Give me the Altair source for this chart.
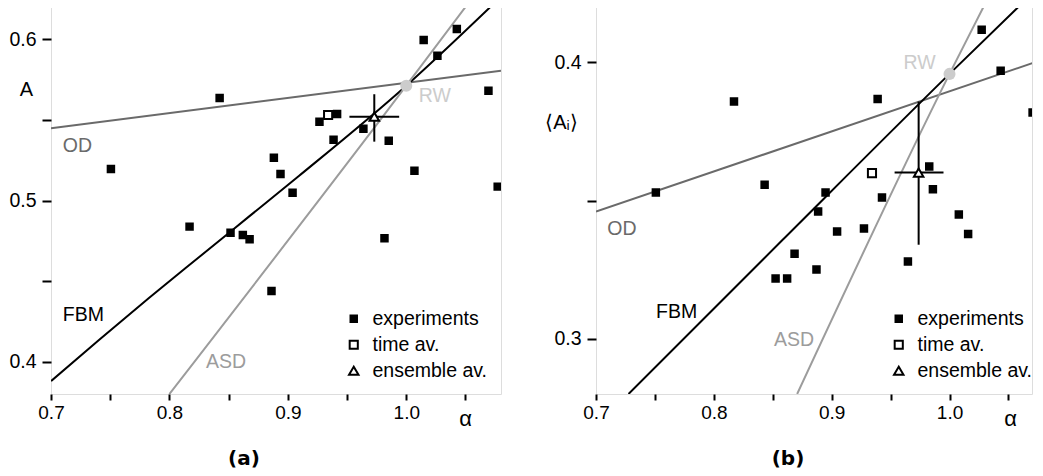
import altair as alt
import pandas as pd

FONT = "Liberation Sans"

# ---------------- panel (a) data ----------------
a_exp_alpha = [0.8424, 0.7506, 1.0147, 1.0427, 1.0263, 1.0694, 0.9416, 0.9267, 0.9638, 0.9386,
               0.9852, 0.8882, 0.8938, 0.9040, 1.0069, 1.0772, 0.8170, 0.8516, 0.8620, 0.8677,
               0.9816, 0.8862]
a_exp_A = [0.5636, 0.5195, 0.5996, 0.6064, 0.5898, 0.5681, 0.5537, 0.5489, 0.5445, 0.5377,
           0.5371, 0.5265, 0.5164, 0.5048, 0.5185, 0.5086, 0.4838, 0.4800, 0.4786, 0.4759,
           0.4766, 0.4439]
a_time = [0.934, 0.553]
a_ens = [0.973, 0.552]
a_ens_alpha_err = [0.952, 0.994]
a_ens_A_err = [0.5365, 0.5659]
a_rw = [1.0, 0.5712]
a_od_alpha = [0.7, 1.08]
a_od_A = [0.5448, 0.5805]
a_fbm_alpha = [0.7, 0.7405, 0.7827, 0.8249, 0.8671, 0.9093, 1.0, 1.071]
a_fbm_A = [0.388, 0.4135, 0.4395, 0.4648, 0.49, 0.5152, 0.5712, 0.62]
a_asd_alpha = [0.8, 1.0, 1.05]
a_asd_A = [0.38, 0.5712, 0.62]
a_label_names = ["OD", "FBM", "ASD", "RW"]
a_label_alpha = [0.710, 0.710, 0.8308, 1.0105]
a_label_A = [0.5341, 0.429, 0.3998, 0.5648]

# ---------------- panel (b) data ----------------
b_exp_alpha = [1.0273, 1.0434, 0.8171, 0.9390, 1.0705, 1.0768, 0.9828, 0.8431, 0.7508, 0.8948,
               0.9859, 0.9427, 0.8885, 1.0079, 0.9046, 0.9274, 1.0158, 0.8685, 0.9647, 0.8871,
               0.8524, 0.8622]
b_exp_A = [0.4118, 0.3969, 0.3858, 0.3867, 0.3818, 0.3840, 0.3623, 0.3557, 0.3529, 0.3529,
           0.3541, 0.3511, 0.3460, 0.3449, 0.3388, 0.3399, 0.3379, 0.3307, 0.3279, 0.3250,
           0.3218, 0.3218]
b_time = [0.9342, 0.3599]
b_ens = [0.9738, 0.3601]
b_ens_alpha_err = [0.9534, 0.9949]
b_ens_A_err = [0.334, 0.3858]
b_rw = [1.0, 0.3958]
b_od_alpha = [0.7, 1.078]
b_od_A = [0.346, 0.4008]
b_fbm_alpha = [0.7276, 0.858, 1.0, 1.0584]
b_fbm_A = [0.28, 0.3356, 0.3958, 0.42]
b_asd_alpha = [0.8707, 1.0, 1.0288]
b_asd_A = [0.28, 0.3958, 0.42]
b_label_names = ["OD", "FBM", "ASD", "RW"]
b_label_alpha = [0.7096, 0.751, 0.851, 0.961]
b_label_A = [0.3396, 0.3096, 0.2995, 0.3996]

kinds = ["experiments", "time av.", "ensemble av."]
curve_names = ["OD", "FBM", "ASD", "RW"]
curve_colors = ["#6a6a6a", "#000000", "#9c9c9c", "#cccccc"]


def lab_expr():
    return "round(datum.value*100) % 10 == 0 ? format(datum.value, '.1f') : ''"


def panel(exp_x, exp_y, time_xy, ens_xy, ens_xerr, ens_yerr, rw,
          od, fbm, asd, labels, xdom, ydom, yvals, width, ytitle, ytx, yty, ptitle, tdx):
    xvals = [0.7, 0.75, 0.8, 0.85, 0.9, 0.95, 1.0, 1.05]
    xsc = alt.Scale(domain=xdom, nice=False, zero=False)
    ysc = alt.Scale(domain=ydom, nice=False, zero=False)
    xax = alt.Axis(values=xvals, labelExpr=lab_expr(), tickSize=6, tickWidth=2, tickColor="black",
                   domain=False, grid=False, labelFont=FONT, labelFontSize=19, labelColor="black",
                   labelPadding=3, labelFlush=False, labelOverlap=False,
                   title="α", titleFont=FONT, titleFontSize=22, titleFontWeight="normal",
                   titleAngle=0, titleX=414, titleY=24, titleAlign="center",
                   titleBaseline="middle", titleColor="black")
    yax = alt.Axis(values=yvals, labelExpr=lab_expr(), tickSize=9, tickWidth=2, tickColor="black",
                   domain=False, grid=False, labelFont=FONT, labelFontSize=19.5, labelColor="black",
                   labelPadding=6, labelFlush=False, labelOverlap=False,
                   title=ytitle, titleFont=FONT, titleFontSize=20, titleFontWeight="normal",
                   titleAngle=0, titleX=ytx, titleY=yty, titleAlign="center",
                   titleBaseline="middle", titleColor="black")

    rows = []
    for n, (xs, ys) in zip(["OD", "FBM", "ASD"], [od, fbm, asd]):
        for i, (xv, yv) in enumerate(zip(xs, ys)):
            rows.append({"curve": n, "alpha": xv, "A": yv, "order": i})
    lines_df = pd.DataFrame(rows)
    color_scale = alt.Scale(domain=curve_names, range=curve_colors)

    lines = alt.Chart(lines_df).mark_line(strokeWidth=2, clip=True, interpolate="monotone").encode(
        x=alt.X("alpha:Q", scale=xsc, axis=xax),
        y=alt.Y("A:Q", scale=ysc, axis=yax),
        color=alt.Color("curve:N", scale=color_scale, legend=None),
        order="order:Q",
    )

    rw_df = pd.DataFrame({"alpha": [rw[0]], "A": [rw[1]]})
    rw_pt = alt.Chart(rw_df).mark_circle(size=145, color="#cccccc", opacity=1).encode(
        x="alpha:Q", y="A:Q")

    lab_df = pd.DataFrame({"curve": labels[0], "alpha": labels[1], "A": labels[2]})
    texts = alt.Chart(lab_df).mark_text(align="left", baseline="middle", font=FONT,
                                        fontSize=19.5).encode(
        x="alpha:Q", y="A:Q", text="curve:N",
        color=alt.Color("curve:N", scale=color_scale, legend=None))

    pts_df = pd.DataFrame({
        "alpha": list(exp_x) + [time_xy[0], ens_xy[0]],
        "A": list(exp_y) + [time_xy[1], ens_xy[1]],
        "kind": ["experiments"] * len(exp_x) + ["time av.", "ensemble av."],
    })
    leg = dict(title=None, orient="none", legendX=293, legendY=302, labelFont=FONT,
               labelFontSize=19.5, labelColor="black", labelOffset=9, rowPadding=5,
               padding=0, symbolStrokeWidth=2)
    pts = alt.Chart(pts_df).mark_point(filled=True, strokeWidth=2,
                                       opacity=1, fillOpacity=1, clip=True).encode(
        x="alpha:Q", y="A:Q",
        shape=alt.Shape("kind:N", scale=alt.Scale(domain=kinds,
                        range=["square", "square", "triangle-up"]), legend=alt.Legend(**leg)),
        fill=alt.Fill("kind:N", scale=alt.Scale(domain=kinds,
                      range=["black", "white", "white"]), legend=alt.Legend(**leg)),
        stroke=alt.Stroke("kind:N", scale=alt.Scale(domain=kinds,
                          range=["black", "black", "black"]), legend=alt.Legend(**leg)),
        size=alt.Size("kind:N", scale=alt.Scale(domain=kinds, range=[42, 90, 120]),
                      legend=alt.Legend(**leg)),
    )

    hbar = alt.Chart(pd.DataFrame({"a1": [ens_xerr[0]], "a2": [ens_xerr[1]], "A": [ens_xy[1]]})
                     ).mark_rule(strokeWidth=2, color="black").encode(
        x="a1:Q", x2="a2:Q", y="A:Q")
    vbar = alt.Chart(pd.DataFrame({"alpha": [ens_xy[0]], "y1": [ens_yerr[0]], "y2": [ens_yerr[1]]})
                     ).mark_rule(strokeWidth=2, color="black").encode(
        x="alpha:Q", y="y1:Q", y2="y2:Q")

    return alt.layer(lines, rw_pt, texts, hbar, vbar, pts).properties(
        width=width, height=387,
        title=alt.TitleParams(ptitle, orient="bottom", anchor="middle", frame="group",
                              dx=tdx, offset=20, font="DejaVu Sans", fontSize=20,
                              fontWeight="bold", color="black"),
    )


pa = panel(a_exp_alpha, a_exp_A, a_time, a_ens, a_ens_alpha_err, a_ens_A_err, a_rw,
           (a_od_alpha, a_od_A), (a_fbm_alpha, a_fbm_A), (a_asd_alpha, a_asd_A),
           (a_label_names, a_label_alpha, a_label_A),
           [0.7, 1.08], [0.38, 0.62], [0.4, 0.45, 0.5, 0.55, 0.6], 450, "A", -25, 82, "(a)", -32)
pb = panel(b_exp_alpha, b_exp_A, b_time, b_ens, b_ens_alpha_err, b_ens_A_err, b_rw,
           (b_od_alpha, b_od_A), (b_fbm_alpha, b_fbm_A), (b_asd_alpha, b_asd_A),
           (b_label_names, b_label_alpha, b_label_A),
           [0.7, 1.07], [0.28, 0.42], [0.3, 0.35, 0.4], 436, "⟨Aᵢ⟩", -35, 115, "(b)", -26)

chart = alt.hconcat(pa, pb, spacing=95, bounds="flush").resolve_scale(
    x="independent", y="independent", shape="independent", fill="independent",
    size="independent", color="independent", stroke="independent"
).resolve_legend(shape="independent", fill="independent", size="independent",
                 stroke="independent").properties(
    padding={"left": 0, "top": -2, "right": 0, "bottom": 0}
).configure_view(stroke="black", strokeWidth=2).configure(background="white")

chart.save("out.html", embed_options={"renderer": "svg", "actions": False})
